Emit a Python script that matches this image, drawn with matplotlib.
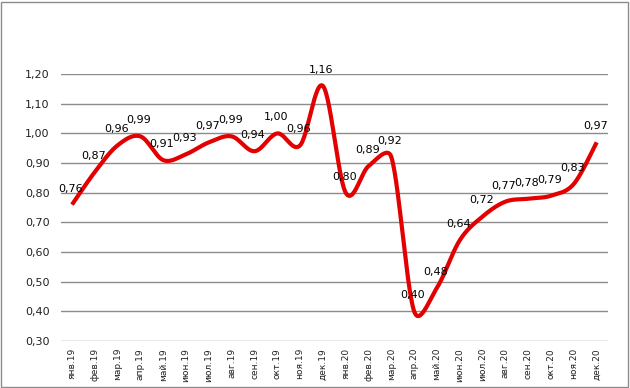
import numpy as np
import matplotlib
matplotlib.use("Agg")
import matplotlib.pyplot as plt
from matplotlib.patches import Rectangle

# --- DATA ---
months = ["янв.19", "фев.19", "мар.19", "апр.19", "май.19", "июн.19",
          "июл.19", "авг.19", "сен.19", "окт.19", "ноя.19", "дек.19",
          "янв.20", "фев.20", "мар.20", "апр.20", "май.20", "июн.20",
          "июл.20", "авг.20", "сен.20", "окт.20", "ноя.20", "дек.20"]
values = [0.76, 0.87, 0.96, 0.99, 0.91, 0.93, 0.97, 0.99, 0.94, 1.00, 0.96, 1.16,
          0.80, 0.89, 0.92, 0.40, 0.48, 0.64, 0.72, 0.77, 0.78, 0.79, 0.83, 0.97]
yticks = [0.30, 0.40, 0.50, 0.60, 0.70, 0.80, 0.90, 1.00, 1.10, 1.20]


def smooth(x, y, sx=22.8, sy=297.0, n=30):
    # Excel-like smoothed line, worked out in pixel units so the
    # handle length can be capped at half the segment length
    px = np.concatenate([[x[0]], x, [x[-1]]]) * sx
    py = np.concatenate([[y[0]], y, [y[-1]]]) * sy
    t = np.linspace(0, 1, n)[:, None]
    out = []
    for i in range(1, len(px) - 2):
        p0 = np.array([px[i - 1], py[i - 1]])
        p1 = np.array([px[i], py[i]])
        p2 = np.array([px[i + 1], py[i + 1]])
        p3 = np.array([px[i + 2], py[i + 2]])
        half = np.hypot(*(p2 - p1)) / 2
        d02 = np.hypot(*(p2 - p0))
        d13 = np.hypot(*(p3 - p1))
        f1 = 1 / 6 if d02 / 6 <= half else half / d02
        f2 = 1 / 6 if d13 / 6 <= half else half / d13
        c1 = p1 + (p2 - p0) * f1
        c2 = p2 - (p3 - p1) * f2
        seg = ((1 - t) ** 3) * p1 + 3 * ((1 - t) ** 2) * t * c1 \
            + 3 * (1 - t) * t ** 2 * c2 + t ** 3 * p2
        out.append(seg if i == 1 else seg[1:])
    out = np.vstack(out)
    return out[:, 0] / sx, out[:, 1] / sy


x = np.arange(len(values))
lx, ly = smooth(x, np.array(values))

fig = plt.figure(figsize=(6.3, 3.88), dpi=100)
ax = fig.add_axes([0.0962, 0.121, 0.869, 0.688])

ax.plot(lx, ly, color="#e30000", lw=3.0, solid_capstyle="butt", zorder=3)

for xi, v in zip(x, values):
    ax.annotate(f"{v:.2f}".replace(".", ","), (xi, v), xytext=(-1, 8),
                textcoords="offset points", ha="center", va="bottom",
                fontsize=8, color="black", zorder=4, annotation_clip=False)

ax.set_xlim(-0.5, len(values) - 0.5)
ax.set_ylim(0.30, 1.20)
ax.set_yticks(yticks)
ax.set_yticklabels([f"{v:.2f}".replace(".", ",") for v in yticks], fontsize=8)
ax.set_xticks(x)
ax.set_xticklabels(months, rotation=90, fontsize=6.5)
ax.tick_params(axis="both", length=0, pad=8, colors="#222222")
ax.tick_params(axis="x", pad=5)
ax.grid(axis="y", color="#8c8c8c", lw=1.0)
ax.set_axisbelow(True)
for s in ax.spines.values():
    s.set_visible(False)

# chart area border
fig.patches.append(Rectangle((0.002, 0.003), 0.995, 0.993, transform=fig.transFigure,
                             fill=False, edgecolor="#8c8c8c", lw=1.0))

fig.savefig("out.png", dpi=100)
